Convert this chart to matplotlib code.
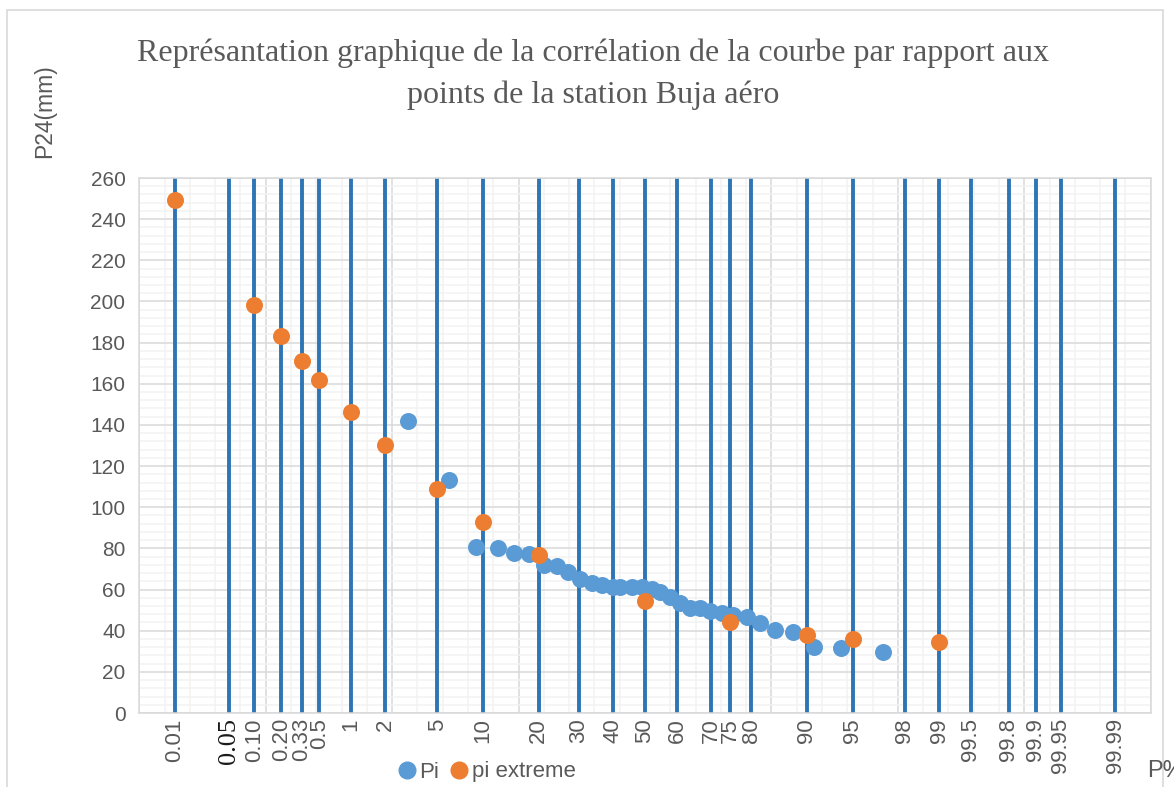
import math
import matplotlib.pyplot as plt
from matplotlib.lines import Line2D
from matplotlib.patches import Rectangle
from matplotlib.ticker import MultipleLocator

# probability ticks (P%) drawn as vertical lines on a normal-probability scale
p_ticks = [0.01, 0.05, 0.10, 0.20, 0.33, 0.5, 1, 2, 5, 10, 20, 30, 40, 50, 60,
           70, 75, 80, 90, 95, 98, 99, 99.5, 99.8, 99.9, 99.95, 99.99]
p_labels = ['0.01', '0.05', '0.10', '0.20', '0.33', '0.5', '1', '2', '5', '10',
            '20', '30', '40', '50', '60', '70', '75', '80', '90', '95', '98',
            '99', '99.5', '99.8', '99.9', '99.95', '99.99']

# Pi : observed points (reduced normal variable, P24 mm)
pi_u = [-1.875, -1.548, -1.337, -1.165, -1.034, -0.915, -0.797, -0.694, -0.607,
        -0.514, -0.422, -0.343, -0.256, -0.198, -0.105, -0.026, 0.053, 0.119,
        0.198, 0.277, 0.356, 0.435, 0.514, 0.607, 0.699, 0.805, 0.910, 1.028,
        1.168, 1.337, 1.548, 1.880]
pi_val = [142.0, 113.2, 80.5, 80.3, 77.9, 77.3, 71.9, 71.4, 68.7,
          65.0, 63.3, 62.2, 61.1, 61.4, 61.4, 61.1, 60.1, 59.0,
          56.2, 53.3, 51.2, 50.9, 49.7, 48.5, 47.6, 46.8, 43.6, 40.3,
          39.5, 32.2, 31.4, 29.5]

# pi extreme : fitted values at given probabilities
ext_p = [0.01, 0.10, 0.20, 0.33, 0.5, 1, 2, 5, 10, 20, 50, 75, 90, 95, 99]
ext_val = [249.3, 198.3, 183.2, 171.1, 161.8, 146.3, 130.2, 109.0, 93.0,
           76.8, 54.6, 44.1, 37.9, 36.0, 34.5]


def norm_ppf(p):
    # inverse of the standard normal cdf by bisection
    lo, hi = -8.0, 8.0
    for _ in range(80):
        mid = (lo + hi) / 2
        if 0.5 * (1 + math.erf(mid / math.sqrt(2))) < p:
            lo = mid
        else:
            hi = mid
    return (lo + hi) / 2


tick_u = [norm_ppf(p / 100) for p in p_ticks]
ext_u = [norm_ppf(p / 100) for p in ext_p]

blue_line = '#2E75B6'
c_pi = '#5B9BD5'
c_ext = '#ED7D31'
grey = '#595959'
sans = 'Liberation Sans'

fig = plt.figure(figsize=(11.74, 7.87), dpi=100)
fig.patches.append(Rectangle((7 / 1174, -0.1), (1163 - 7) / 1174, 1.1 - 10 / 787,
                             transform=fig.transFigure, fill=False,
                             edgecolor='#D9D9D9', lw=1.2))
ax = fig.add_axes([0.1187, 0.094, 0.8614, 0.6798])

ax.set_xlim(-4, 4)
ax.set_ylim(0, 260)
ax.yaxis.set_major_locator(MultipleLocator(20))
ax.yaxis.set_minor_locator(MultipleLocator(4))
ax.xaxis.set_major_locator(MultipleLocator(1))
ax.xaxis.set_minor_locator(MultipleLocator(0.2))
ax.grid(which='minor', color='#F2F2F2', lw=1.1)
ax.grid(which='major', color='#D9D9D9', lw=1.1)
ax.set_axisbelow(True)
for s in ax.spines.values():
    s.set_color('#D9D9D9')
    s.set_linewidth(1.1)

ax.vlines(tick_u, 0, 260, color=blue_line, lw=2.8, zorder=2)
ax.scatter(pi_u, pi_val, s=150, color=c_pi, zorder=3, linewidths=0)
ax.scatter(ext_u, ext_val, s=150, color=c_ext, zorder=4, linewidths=0)

ax.tick_params(which='both', length=0)
ax.tick_params(axis='y', labelsize=15, labelcolor=grey, pad=10)
ax.set_yticks(range(0, 261, 20))
ax.set_yticklabels([str(v) for v in range(0, 261, 20)], fontfamily=sans)

# x labels are written at the probability lines
ax.set_xticklabels([])
for u, lab in zip(tick_u, p_labels):
    if lab == '0.05':
        ax.text(u, -2.5, lab, rotation=90, ha='center', va='top', fontsize=19,
                family='Liberation Serif', color='#1a1a1a')
    else:
        ax.text(u, -2.5, lab, rotation=90, ha='center', va='top', fontsize=16,
                family=sans, color=grey)

fig.text(1147 / 1174, 1 - 771 / 787, 'P%', fontsize=17, family=sans, color=grey,
         ha='left', va='center')
fig.text(45 / 1174, 1 - 111 / 787, 'P24(mm)', rotation=90, fontsize=16.5,
         family=sans, color=grey, ha='center', va='center')

fig.text(593 / 1174, 1 - 53 / 787, 'Représantation graphique de la corrélation de la courbe par rapport aux',
         fontsize=23, family='Liberation Serif', color=grey, ha='center', va='center')
fig.text(593 / 1174, 1 - 95 / 787, 'points de la station Buja aéro',
         fontsize=23, family='Liberation Serif', color=grey, ha='center', va='center')

handles = [Line2D([], [], marker='o', ls='', color=c_pi, markersize=12, label='Pi'),
           Line2D([], [], marker='o', ls='', color=c_ext, markersize=12, label='pi extreme')]
fig.legend(handles=handles, loc='center', bbox_to_anchor=(487 / 1174, 1 - 772 / 787),
           ncol=2, frameon=False, handletextpad=0.15, columnspacing=0.5,
           handlelength=0.8, prop={'family': sans, 'size': 16}, labelcolor=grey)

fig.savefig('out.png', dpi=100)
